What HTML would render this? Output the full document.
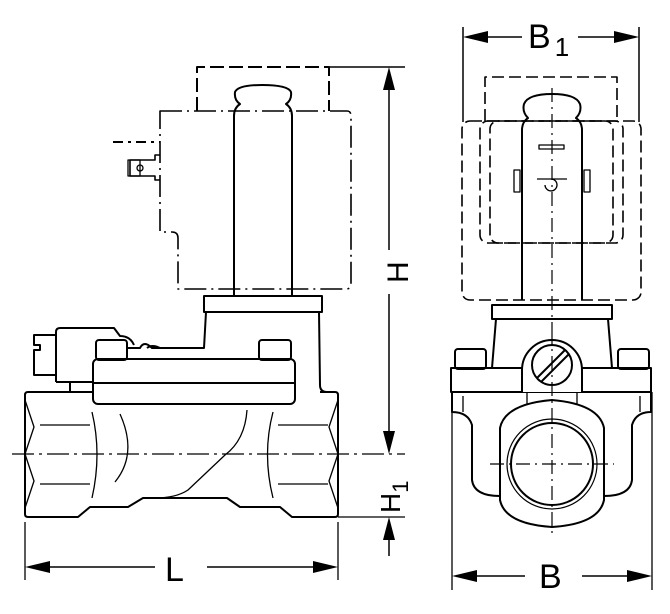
<!DOCTYPE html>
<html><head><meta charset="utf-8"><style>
html,body{margin:0;padding:0;background:#fff}
svg{display:block}
text{font-family:"Liberation Sans",sans-serif;fill:#000}
</style></head><body>
<svg width="670" height="614" viewBox="0 0 670 614" xmlns="http://www.w3.org/2000/svg">
<g fill="none" stroke="#000" stroke-width="2" stroke-linejoin="round">
<!-- ===== LEFT VIEW ===== -->
<!-- coil dashed top rect -->
<path d="M197 111 V67 H329 V111" stroke-dasharray="14 5"/>
<line x1="329" y1="67" x2="405" y2="67" stroke-width="1.5"/>
<!-- coil body dash-dot -->
<path d="M160 111 H347 Q351 111 351 116 V284 Q351 289 346 289 H178 V238 Q178 232 172 232 H160 Z" stroke-dasharray="22 5 2 5" stroke-width="1.6"/>
<line x1="113" y1="142" x2="160" y2="142" stroke-dasharray="10 5 3 5"/>
<!-- terminal -->
<path d="M160 155 H155 V160 H130 V176 H155 V180 H160" stroke-width="1.6"/>
<rect x="128" y="160" width="12" height="16" stroke-width="1.3"/>
<circle cx="140" cy="168" r="3" stroke-width="1.3"/>
<!-- tube -->
<path d="M234 296 V116 Q234 108 240 104 Q234 100 235 92 Q238 85 262 85 Q288 85 291 92 Q292 100 286 104 Q292 108 292 116 V296"/>
<line x1="113" y1="111" x2="360" y2="111" stroke="none"/>
<!-- bonnet flange -->
<rect x="204" y="296" width="118" height="16"/>
<path d="M206 312 L204 348 H152 Q144 340 140 348 H128"/>
<path d="M319 312 L320 385 Q320 392 327 392"/>
<path d="M147 348 Q152 344 160 348" />
<!-- connector -->
<path d="M56 382 V332 Q56 328 60 328 H114 L120 336 Q130 336 134 345"/>
<path d="M56 335 H34 V345 H40 V350 H34 V375 H56"/>
<line x1="56" y1="382" x2="93" y2="382"/>
<line x1="70" y1="382" x2="70" y2="392"/>
<!-- bumps -->
<rect x="96" y="340" width="31" height="20" rx="3"/>
<rect x="259" y="340" width="32" height="20" rx="3"/>
<!-- flange plate -->
<rect x="93" y="359" width="202" height="45" rx="5"/>
<line x1="93" y1="383" x2="295" y2="383"/>
<!-- body -->
<path d="M93 392 H28 Q25 392 25 395 V514 Q25 517 28 517 H78 L90 507 H128 L143 498 H227 L240 507 H280 L292 517 H335 Q338 517 338 514 V395 Q338 392 335 392 H320"/>
<path d="M25 400 L34 427 L25 454 M25 454 L34 481 L25 508" stroke-width="1.3"/>
<path d="M338 400 L329 427 L338 454 M338 454 L329 481 L338 508" stroke-width="1.3"/>
<g stroke-width="1.3">
<line x1="40" y1="425" x2="90" y2="425"/><line x1="40" y1="484" x2="90" y2="484"/>
<line x1="278" y1="425" x2="328" y2="425"/><line x1="278" y1="484" x2="328" y2="484"/>
<path d="M92 412 Q102 454 92 498"/><path d="M120 414 Q138 454 115 482"/>
<path d="M273 412 Q262 454 273 498"/>
<path d="M247 410 Q245 440 225 455 L188 490 Q176 498 155 498"/>
</g>
<!-- centerline -->
<line x1="12" y1="454" x2="405" y2="454" stroke-width="1.3" stroke-dasharray="22 5 3 5"/>
<line x1="338" y1="517" x2="405" y2="517" stroke-width="1.3"/>
<!-- H dims -->
<line x1="389" y1="80" x2="389" y2="250" stroke-width="1.5"/>
<line x1="389" y1="294" x2="389" y2="440" stroke-width="1.5"/>
<line x1="389" y1="528" x2="389" y2="556" stroke-width="1.5"/>
<!-- L dims -->
<line x1="25" y1="522" x2="25" y2="580" stroke-width="1.3"/>
<line x1="338" y1="522" x2="338" y2="580" stroke-width="1.3"/>
<line x1="40" y1="567" x2="155" y2="567" stroke-width="1.5"/>
<line x1="207" y1="567" x2="325" y2="567" stroke-width="1.5"/>

<!-- ===== RIGHT VIEW ===== -->
<line x1="463" y1="27" x2="463" y2="122" stroke-width="1.5"/>
<line x1="639" y1="27" x2="639" y2="122" stroke-width="1.5"/>
<line x1="478" y1="37" x2="522" y2="37" stroke-width="1.5"/>
<line x1="578" y1="37" x2="625" y2="37" stroke-width="1.5"/>
<g stroke-dasharray="12 5" stroke-width="1.6">
<path d="M485 121 V77 H617 V121"/>
<rect x="462" y="121" width="179" height="179" rx="8"/>
<rect x="480" y="121" width="143" height="122" rx="8"/>
<rect x="490" y="121" width="123" height="122" rx="8"/>
</g>
<path d="M522 300 V130 Q522 122 528 118 Q522 112 524 104 Q528 94 552 94 Q576 94 580 104 Q582 112 576 118 Q582 122 582 130 V300"/>
<line x1="552" y1="88" x2="552" y2="330" stroke-width="1.2" stroke-dasharray="14 5 2 5"/>
<rect x="539" y="145" width="25" height="4" stroke-width="1.3"/>
<path d="M552 179 A6 6 0 1 1 545 185 M537 179 H567" stroke-width="1.3"/>
<rect x="514" y="170" width="6" height="22" stroke-width="1.3"/>
<rect x="584" y="170" width="6" height="22" stroke-width="1.3"/>
<rect x="492" y="305" width="120" height="14"/>
<path d="M496 319 L492 368 M608 319 L612 368"/>
<rect x="455" y="349" width="31" height="20" rx="3"/>
<rect x="618" y="349" width="31" height="20" rx="3"/>
<rect x="451" y="368" width="200" height="24"/>
<path d="M522 392 V370 A30 30 0 0 1 582 370 V392" fill="#fff"/>
<circle cx="552" cy="365" r="20"/>
<path d="M537 378 L565 350 M541 382 L569 354"/>
<path d="M452 392 V412 Q468 412 472 425 V480 Q474 496 500 496"/>
<path d="M651 392 V412 Q636 412 632 425 V480 Q630 496 604 496"/>
<path d="M463 396 V412 M640 396 V412" stroke-width="1.3"/>
<path d="M527 392 V404 M577 392 V404" stroke-width="1.3"/>
<path d="M500 428 Q505 404 552 400 Q599 404 604 428 V500 Q599 524 552 527 Q505 524 500 500 Z" fill="#fff"/>
<circle cx="552" cy="464" r="41"/>
<circle cx="552" cy="464" r="45" stroke-width="1.2"/>
<line x1="490" y1="464" x2="614" y2="464" stroke-width="1.2" stroke-dasharray="14 5 2 5"/>
<line x1="552" y1="330" x2="552" y2="535" stroke-width="1.2" stroke-dasharray="14 5 2 5"/>
<line x1="452" y1="392" x2="452" y2="590" stroke-width="1.3"/>
<line x1="652" y1="392" x2="652" y2="590" stroke-width="1.3"/>
<line x1="466" y1="576" x2="525" y2="576" stroke-width="1.5"/>
<line x1="582" y1="576" x2="638" y2="576" stroke-width="1.5"/>
</g>
<g fill="#000">
<polygon points="389,67 383,90 395,90"/>
<polygon points="389,454 383,431 395,431"/>
<polygon points="389,517 383,540 395,540"/>
<polygon points="25,567 50,561 50,573"/>
<polygon points="338,567 313,561 313,573"/>
<polygon points="463,37 488,31 488,43"/>
<polygon points="639,37 614,31 614,43"/>
<polygon points="452,576 477,570 477,582"/>
<polygon points="652,576 627,570 627,582"/>
</g>
<text x="381" y="278" font-size="30" transform="rotate(-90 397 267)" x-offset="0">H</text>
<text x="372" y="505" font-size="28" transform="rotate(-90 390 495)">H<tspan font-size="22" dy="8">1</tspan></text>
<text x="165" y="581" font-size="34">L</text>
<text x="528" y="48" font-size="34">B<tspan font-size="26" dy="8" dx="4">1</tspan></text>
<text x="539" y="588" font-size="34">B</text>
</svg>
</body></html>
